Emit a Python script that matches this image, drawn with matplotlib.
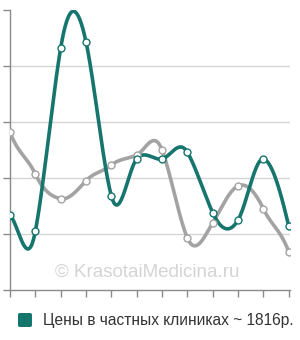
import numpy as np
import matplotlib
matplotlib.use("Agg")
import matplotlib.pyplot as plt
from matplotlib.patches import FancyBboxPatch

plt.rcParams['font.family'] = ['Liberation Sans', 'DejaVu Sans']

# values (y units = grid steps)
private_prices = [1.34, 1.05, 4.32, 4.43, 1.68, 2.34, 2.34, 2.46, 1.38, 1.25, 2.34, 1.14]
other_prices = [2.82, 2.07, 1.63, 1.95, 2.23, 2.41, 2.50, 0.93, 1.20, 1.86, 1.45, 0.68]
legend_label = "Цены в частных клиниках ~ 1816р."
watermark = "© KrasotaiMedicina.ru"

TEAL = "#16756d"
GRAY = "#a3a3a3"


def smooth(vals, k=0.8, n=40):
    # cardinal spline through the points
    p = np.asarray(vals, dtype=float)
    m = np.zeros_like(p)
    m[1:-1] = k * (p[2:] - p[:-2])
    m[0] = 2 * k * (p[1] - p[0])
    m[-1] = 2 * k * (p[-1] - p[-2])
    xs, ys = [], []
    t = np.linspace(0, 1, n)
    h00 = 2 * t**3 - 3 * t**2 + 1
    h10 = t**3 - 2 * t**2 + t
    h01 = -2 * t**3 + 3 * t**2
    h11 = t**3 - t**2
    for i in range(len(p) - 1):
        xs.append(i + t)
        ys.append(h00 * p[i] + h10 * m[i] + h01 * p[i + 1] + h11 * m[i + 1])
    return np.concatenate(xs), np.concatenate(ys)


fig = plt.figure(figsize=(3.0, 3.4), dpi=100)
ax = fig.add_axes([10 / 300, 1 - 290 / 340, 280 / 300, 280 / 340])

x = np.arange(len(private_prices))

for vals, col in [(other_prices, GRAY), (private_prices, TEAL)]:
    sx, sy = smooth(vals)
    ax.plot(sx, sy, color=col, lw=2.6, solid_capstyle='round', zorder=3)
    ax.plot(x, vals, 'o', ms=5, mfc='white', mec=col, mew=1.0, zorder=4)

ax.set_xlim(0, 11.05)
ax.set_ylim(0, 5)
ax.set_xticks(x)
ax.set_yticks(range(6))
ax.set_xticklabels([])
ax.set_yticklabels([])
ax.tick_params(axis='both', length=5, width=1, color='#8a8a8a', direction='out')
for y in range(1, 5):
    ax.axhline(y, color='#d6d6d6', lw=1, zorder=1)
for s in ['top', 'right']:
    ax.spines[s].set_visible(False)
for s in ['left', 'bottom']:
    ax.spines[s].set_color('#8a8a8a')
    ax.spines[s].set_linewidth(1)

fig.text(147 / 300, 1 - 272 / 340, watermark, fontsize=13.5, color='#d4d4d4',
         ha='center', va='center', zorder=0)

# legend swatch + label
fig.patches.append(FancyBboxPatch((18 / 300, 1 - 327 / 340), 14 / 300, 14 / 340,
                                  boxstyle="round,pad=0,rounding_size=0.006",
                                  transform=fig.transFigure, fc=TEAL,
                                  ec='none'))
fig.text(43 / 300, 1 - 320 / 340, legend_label, fontsize=11.2, color='#333333',
         ha='left', va='center')

fig.savefig("out.png", dpi=100)
